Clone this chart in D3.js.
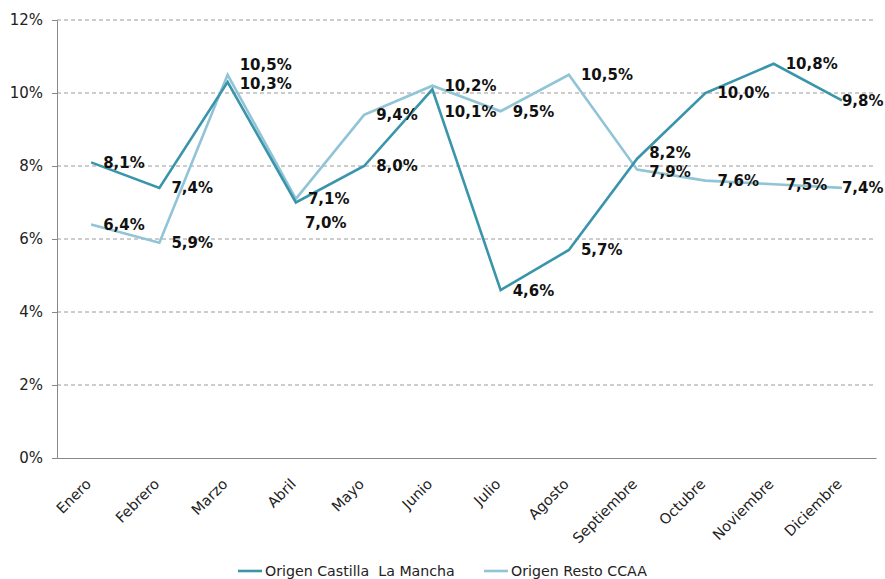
<!DOCTYPE html>
<html lang="es">
<head>
    <meta charset="UTF-8">
    <script src="https://d3js.org/d3.v7.min.js" charset="utf-8"></script>
    <title>Origen</title>
    <style>
        body { margin: 0; background: #fff; }
        text { font-family: "DejaVu Sans", Verdana, sans-serif; fill: #000; }
    </style>
</head>
<body>
    <div class="chart"></div>
    <script>
        const width = 885;
        const height = 579;

        // months on the x axis
        const months = ["Enero", "Febrero", "Marzo", "Abril", "Mayo", "Junio",
            "Julio", "Agosto", "Septiembre", "Octubre", "Noviembre", "Diciembre"];
        // percent values per month
        const castilla = [8.1, 7.4, 10.3, 7.0, 8.0, 10.1, 4.6, 5.7, 8.2, 10.0, 10.8, 9.8];
        const resto = [6.4, 5.9, 10.5, 7.1, 9.4, 10.2, 9.5, 10.5, 7.9, 7.6, 7.5, 7.4];
        const yTicks = [0, 2, 4, 6, 8, 10, 12];

        const series = [
            { name: "Origen Castilla  La Mancha", values: castilla, color: "#3a95ab" },
            { name: "Origen Resto CCAA", values: resto, color: "#90c4d6" }
        ];

        // manual nudges for labels that collide (dx, dy)
        const nudge = {
            "0-2": [0, 2], "0-3": [-3, 20], "0-5": [0, 22], "0-8": [0, -6], "0-11": [-12, 0],
            "1-2": [0, -10], "1-8": [0, 2], "1-11": [-12, 0]
        };

        const margin = { top: 20, right: 9, bottom: 121, left: 57 };

        const svg = d3.select(".chart").append("svg")
            .attr("width", width)
            .attr("height", height);

        const x = d3.scaleBand()
            .domain(months)
            .range([margin.left, width - margin.right]);

        const y = d3.scaleLinear()
            .domain([0, 12])
            .range([height - margin.bottom, margin.top]);

        const fmt = v => v.toFixed(1).replace(".", ",") + "%";
        const cx = m => x(m) + x.bandwidth() / 2;

        // gridlines
        svg.append("g")
            .selectAll("line")
            .data(yTicks.filter(t => t > 0))
            .join("line")
            .attr("x1", margin.left)
            .attr("x2", width - margin.right)
            .attr("y1", d => y(d))
            .attr("y2", d => y(d))
            .attr("stroke", "#9a9a9a")
            .attr("stroke-dasharray", "4,3");

        // y axis
        const yAxis = svg.append("g")
            .attr("transform", `translate(${margin.left},0)`)
            .call(d3.axisLeft(y).tickValues(yTicks).tickFormat(d => d + "%").tickSize(5).tickPadding(9));
        yAxis.select(".domain").attr("stroke", "#888");
        yAxis.selectAll(".tick line").attr("stroke", "#888");
        yAxis.selectAll("text").style("font-size", "15px").style("fill", "#222");

        // x axis
        const xAxis = svg.append("g")
            .attr("transform", `translate(0,${height - margin.bottom})`)
            .call(d3.axisBottom(x).tickSize(0));
        xAxis.select(".domain").attr("stroke", "#888");
        xAxis.selectAll("text")
            .style("font-size", "14.5px")
            .style("fill", "#222")
            .attr("text-anchor", "end")
            .attr("x", 0)
            .attr("y", 0)
            .attr("dy", "0")
            .attr("transform", "translate(1,27) rotate(-45)");

        const line = d3.line()
            .x((d, i) => cx(months[i]))
            .y(d => y(d));

        // draw light series first so the dark one sits on top
        [1, 0].forEach(si => {
            const s = series[si];
            svg.append("path")
                .datum(s.values)
                .attr("d", line)
                .attr("fill", "none")
                .attr("stroke", s.color)
                .attr("stroke-width", 2.6)
                .attr("stroke-linejoin", "miter");
        });

        // data labels
        series.forEach((s, si) => {
            svg.append("g")
                .selectAll("text")
                .data(s.values)
                .join("text")
                .attr("x", (d, i) => cx(months[i]) + 12 + (nudge[si + "-" + i] || [0, 0])[0])
                .attr("y", (d, i) => y(d) + (nudge[si + "-" + i] || [0, 0])[1])
                .attr("dy", "0.36em")
                .style("font-size", "15px")
                .style("font-weight", "bold")
                .style("fill", "#111")
                .text(d => fmt(d));
        });

        // legend
        const legend = svg.append("g")
            .attr("transform", `translate(0,${height - 8})`);
        const legendX = [238, 484];
        series.forEach((s, i) => {
            legend.append("line")
                .attr("x1", legendX[i])
                .attr("x2", legendX[i] + 24)
                .attr("stroke", s.color)
                .attr("stroke-width", 2.6);
            legend.append("text")
                .attr("x", legendX[i] + 27)
                .attr("dy", "0.36em")
                .style("font-size", "14.2px")
                .style("fill", "#222")
                .style("white-space", "pre")
                .text(s.name);
        });
    </script>
</body>
</html>
